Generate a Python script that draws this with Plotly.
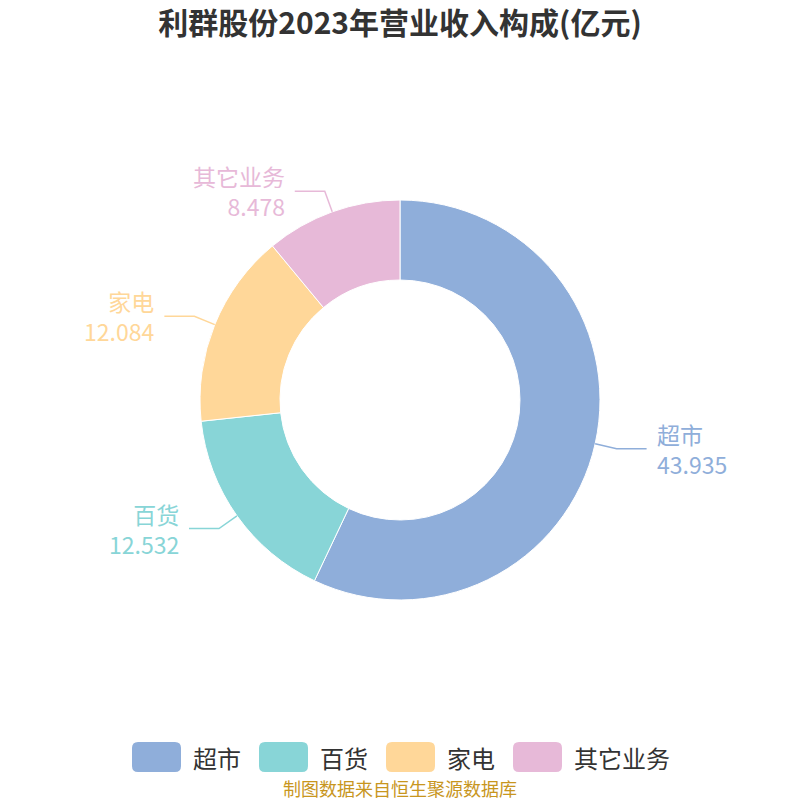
import numpy as np
import plotly.graph_objects as go

categories = ["超市", "百货", "家电", "其它业务"]
values = [43.935, 12.532, 12.084, 8.478]
value_labels = ["43.935", "12.532", "12.084", "8.478"]
colors = ["#8FAEDA", "#88D5D7", "#FFD799", "#E7B9D8"]

title_text = "利群股份2023年营业收入构成(亿元)"
source_text = "制图数据来自恒生聚源数据库"

W = H = 800
FONT = "Noto Sans CJK SC"
cx, cy, R = 400.0, 400.0, 200.0


def px(x):
    return x / W


def py(y):
    return 1 - y / H


fig = go.Figure()
fig.add_trace(go.Pie(
    labels=categories, values=values, sort=False, direction="clockwise",
    rotation=0, hole=0.6, textinfo="none", hoverinfo="label+value+percent",
    marker=dict(colors=colors, line=dict(color="#FFFFFF", width=1)),
    domain=dict(x=[0.25, 0.75], y=[0.25, 0.75]), showlegend=False,
))

shapes = []
annotations = []

# Leader lines and outside labels derived from slice angles
vals = np.array(values, dtype=float)
frac = vals / vals.sum()
ends = np.cumsum(frac) * 360.0
starts = ends - frac * 360.0
mids = np.radians((starts + ends) / 2.0)
r_bend = 222.0
h_len = 30.0
gap = 8.0
lab_size = 23
for i, th in enumerate(mids):
    s, c = np.sin(th), np.cos(th)
    x0, y0 = cx + R * s, cy - R * c
    x1, y1 = cx + r_bend * s, cy - r_bend * c
    right = s >= 0
    x2 = x1 + (h_len if right else -h_len)
    path = f"M {px(x0)},{py(y0)} L {px(x1)},{py(y1)} L {px(x2)},{py(y1)}"
    shapes.append(dict(type="path", xref="paper", yref="paper", path=path,
                       line=dict(color=colors[i], width=1.5)))
    xt = x2 + (gap if right else -gap)
    annotations.append(dict(
        x=px(xt), y=py(y1), xref="paper", yref="paper",
        text=f"{categories[i]}<br>{value_labels[i]}",
        showarrow=False, xanchor="left" if right else "right",
        yanchor="middle", align="left" if right else "right",
        font=dict(family=FONT, size=lab_size, color=colors[i]),
    ))

# Custom legend with rounded swatches
leg_size = 24
rect_w, rect_h, rr = 49.0, 30.0, 6.0
text_gap, item_gap = 10.0, 20.0
widths = [rect_w + text_gap + len(c) * leg_size for c in categories]
total = sum(widths) + item_gap * (len(categories) - 1)
lx = cx - total / 2.0
ly = 757.0
for i, cat in enumerate(categories):
    a, b = lx, lx + rect_w
    t, btm = ly - rect_h / 2, ly + rect_h / 2
    path = (f"M {px(a + rr)},{py(t)} L {px(b - rr)},{py(t)} Q {px(b)},{py(t)} {px(b)},{py(t + rr)} "
            f"L {px(b)},{py(btm - rr)} Q {px(b)},{py(btm)} {px(b - rr)},{py(btm)} "
            f"L {px(a + rr)},{py(btm)} Q {px(a)},{py(btm)} {px(a)},{py(btm - rr)} "
            f"L {px(a)},{py(t + rr)} Q {px(a)},{py(t)} {px(a + rr)},{py(t)} Z")
    shapes.append(dict(type="path", xref="paper", yref="paper", path=path,
                       fillcolor=colors[i], line=dict(width=0)))
    annotations.append(dict(
        x=px(b + text_gap), y=py(ly), xref="paper", yref="paper", text=cat,
        showarrow=False, xanchor="left", yanchor="middle",
        font=dict(family=FONT, size=leg_size, color="#333333"),
    ))
    lx += widths[i] + item_gap

annotations.append(dict(
    x=0.5, y=py(788), xref="paper", yref="paper", text=source_text,
    showarrow=False, xanchor="center", yanchor="middle",
    font=dict(family=FONT, size=18, color="#C8961E"),
))

fig.update_layout(
    width=W, height=H, margin=dict(l=0, r=0, t=0, b=0),
    paper_bgcolor="#FFFFFF", plot_bgcolor="#FFFFFF",
    title=dict(text=f"<b>{title_text}</b>", x=0.5, xanchor="center",
               y=py(23), yanchor="middle",
               font=dict(family=FONT, size=30, color="#333333")),
    shapes=shapes, annotations=annotations, showlegend=False,
)

fig.write_html(
    "out.html",
    config={"displayModeBar": False},
    post_script="document.body.style.margin='0';document.body.style.padding='0';",
)
